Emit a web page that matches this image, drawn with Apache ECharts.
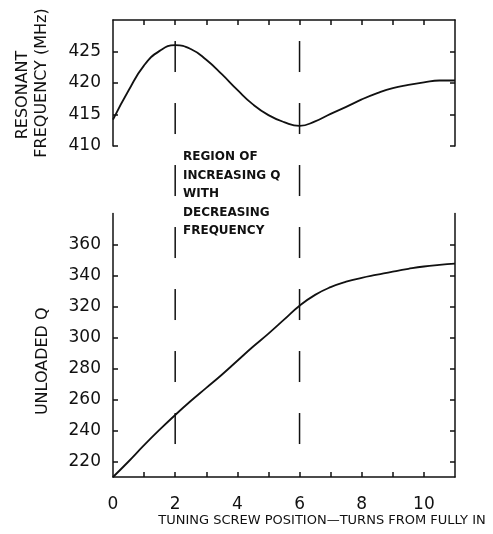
<!DOCTYPE html>
<html>
<head>
<meta charset="utf-8">
<script src="https://cdn.jsdelivr.net/npm/echarts@6/dist/echarts.min.js"></script>
<style>
html,body{margin:0;padding:0;background:#fff;}
#chart{width:493px;height:534px;}
</style>
</head>
<body>
<div id="chart"></div>
<script>
// ---- data ----
const turns = [0,0.5,1,1.5,2,2.5,3,3.5,4,4.5,5,5.5,6,6.5,7,7.5,8,8.5,9,9.5,10,10.5,11];
const resonantFreq = [414.2,418.8,422.8,425.1,426.0,425.4,423.7,421.4,418.9,416.6,414.9,413.8,413.2,413.9,415.1,416.2,417.4,418.4,419.2,419.7,420.1,420.4,420.4];
const unloadedQ = [210,220,230.5,240.5,250,259,267.5,276,285,294,302.5,311.5,320.5,327.5,332.5,336,338.5,340.5,342.5,344.3,345.8,346.8,347.6];
const regionTurns = [2, 6];
const regionSpan = [0.954, 0.07]; // fraction of full plot height (top, bottom)
const freqTicks = [410,415,420,425];
const qTicks = [220,240,260,280,300,320,340,360];
const turnTicks = [1,2,3,4,5,6,7,8,9,10];
const turnLabels = [0,2,4,6,8,10];
const regionText = ['REGION OF','INCREASING Q','WITH','DECREASING','FREQUENCY'];

const FONT = 'DejaVu Sans';
const INK = '#111';
const chart = echarts.init(document.getElementById('chart'));

const axisLineStyle = {show:true, lineStyle:{color:INK, width:1.5}};
const tickStyle = (vals) => ({show:true, inside:true, length:5, customValues: vals, lineStyle:{color:INK, width:1.5}});

const option = {
  backgroundColor:'#fff',
  animation:false,
  grid:[
    {left:113, right:38, top:20, height:126},
    {left:113, right:38, top:213.5, bottom:57},
    {left:113, right:38, top:20, bottom:57}
  ],
  xAxis:[
    {gridIndex:0, type:'value', min:0, max:11, position:'top', axisLine:axisLineStyle,
     axisTick:tickStyle(turnTicks), axisLabel:{show:false}, splitLine:{show:false}},
    {gridIndex:1, type:'value', min:0, max:11, position:'bottom', axisLine:axisLineStyle,
     axisTick:tickStyle(turnTicks),
     axisLabel:{show:true, customValues:turnLabels, margin:19, fontFamily:FONT, fontSize:17, color:INK},
     splitLine:{show:false},
     name:'TUNING SCREW POSITION\u2014TURNS FROM FULLY IN', nameLocation:'middle', nameGap:37,
     nameTextStyle:{fontFamily:FONT, fontSize:13, color:INK, padding:[0,0,0,76]}},
    {gridIndex:2, type:'value', min:0, max:11, show:false}
  ],
  yAxis:[
    {gridIndex:0, type:'value', min:410, max:430, position:'left', axisLine:axisLineStyle,
     axisTick:tickStyle(freqTicks),
     axisLabel:{show:true, customValues:freqTicks, margin:12, fontFamily:FONT, fontSize:17, color:INK},
     splitLine:{show:false},
     name:'{a|RESONANT}\n{b|FREQUENCY (MHz)}', nameLocation:'middle', nameGap:62, nameRotate:90,
     nameTextStyle:{fontFamily:FONT, fontSize:16, color:INK, lineHeight:19,
       rich:{a:{fontFamily:FONT, fontSize:16, color:INK, lineHeight:19, padding:[0,24,0,0]},
             b:{fontFamily:FONT, fontSize:16, color:INK, lineHeight:19}}}},
    {gridIndex:0, type:'value', min:410, max:430, position:'right', axisLine:axisLineStyle,
     axisTick:tickStyle(freqTicks), axisLabel:{show:false}, splitLine:{show:false}},
    {gridIndex:1, type:'value', min:210, max:380, position:'left', axisLine:axisLineStyle,
     axisTick:tickStyle(qTicks),
     axisLabel:{show:true, customValues:qTicks, margin:12, fontFamily:FONT, fontSize:17, color:INK},
     splitLine:{show:false},
     name:'{a|UNLOADED Q}', nameLocation:'middle', nameGap:62, nameRotate:90,
     nameTextStyle:{fontFamily:FONT, fontSize:16, color:INK,
       rich:{a:{fontFamily:FONT, fontSize:16, color:INK, padding:[0,32,0,0]}}}},
    {gridIndex:1, type:'value', min:210, max:380, position:'right', axisLine:axisLineStyle,
     axisTick:tickStyle(qTicks), axisLabel:{show:false}, splitLine:{show:false}},
    {gridIndex:2, type:'value', min:0, max:1, show:false}
  ],
  graphic:[{
    type:'text', left:183, top:148,
    style:{text:regionText.join('\n'), fontFamily:FONT, fontSize:12, fontWeight:'bold', lineHeight:18.5, fill:INK}
  }],
  series:[
    {type:'line', xAxisIndex:0, yAxisIndex:0, smooth:0.5, showSymbol:false,
     lineStyle:{color:INK, width:1.8}, data:turns.map((t,i)=>[t,resonantFreq[i]])},
    {type:'line', xAxisIndex:1, yAxisIndex:2, smooth:0.5, showSymbol:false,
     lineStyle:{color:INK, width:1.8}, data:turns.map((t,i)=>[t,unloadedQ[i]])}
  ].concat(regionTurns.map(t=>({
    type:'line', xAxisIndex:2, yAxisIndex:4, showSymbol:false, silent:true,
    lineStyle:{color:INK, width:1.5, type:[31,31]},
    data:[[t,regionSpan[0]],[t,regionSpan[1]]]
  })))
};
chart.setOption(option);
</script>
</body>
</html>
